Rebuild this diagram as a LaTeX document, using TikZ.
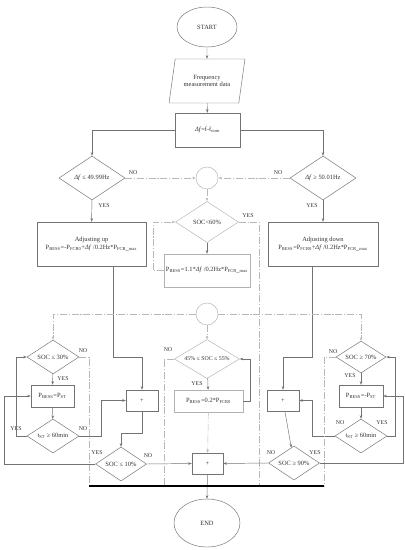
\documentclass[tikz,border=0pt]{standalone}
\usepackage{fontspec}
\setmainfont{Liberation Serif}
\usetikzlibrary{calc, positioning, arrows.meta, shapes.geometric}

\begin{document}
\begin{tikzpicture}[x=0.03cm, y=-0.03cm,
  every node/.style={font=\fontsize{5.5}{6.5}\selectfont, text=black!80},
  term/.style={draw=black!55, ellipse, minimum width=1.8cm, minimum height=1.2cm},
  iobox/.style={draw=black!55, trapezium, trapezium left angle=75,
    trapezium right angle=105, trapezium stretches, minimum width=2.28cm,
    minimum height=1.32cm, align=center},
  blk/.style={draw=black!55, rectangle, align=center, inner sep=1pt},
  dec/.style={draw=black!55, diamond, aspect=1.5, inner sep=0pt, align=center},
  jn/.style={draw=black!30, circle, minimum size=0.66cm, inner sep=0pt},
  lbl/.style={font=\fontsize{5}{6}\selectfont, inner sep=0pt},
  arw/.style={-{Stealth[length=3pt,width=2.2pt]}, draw=black!55},
  faint/.style={draw=black!28, dash pattern=on 6pt off 1.5pt on 1pt off 1.5pt},
]
\useasboundingbox (0,0) rectangle (405,550);

% frequency part
\node[term] (start) at (207,27) {START};
\node[iobox] (data) at (207,81) {Frequency\\measurement data};
\node[blk, minimum width=1.95cm, minimum height=1.02cm] (df) at (207.5,130)
  {\textit{Δf}=f-f$_{\mathrm{nom}}$};
\node[dec, minimum width=1.98cm, minimum height=1.32cm] (dlo) at (92,178)
  {\textit{Δf} ≤ 49.99Hz};
\node[dec, minimum width=1.98cm, minimum height=1.32cm] (dhi) at (323,178)
  {\textit{Δf} ≥ 50.01Hz};
\node[jn] (j1) at (207,178) {};
\node[dec, draw=black!30, minimum width=1.89cm, minimum height=1.23cm] (s60) at (207,222)
  {SOC<60\%};
\node[blk, minimum width=3.27cm, minimum height=1.32cm] (up) at (91.5,244)
  {Adjusting up\\P$_{\mathrm{BESS}}$=-P$_{\mathrm{FCR0}}$+\textit{Δf} /0.2Hz*P$_{\mathrm{FCR\_max}}$};
\node[blk, minimum width=3.3cm, minimum height=1.32cm] (down) at (323,244)
  {Adjusting down\\P$_{\mathrm{BESS}}$=P$_{\mathrm{FCR0}}$+\textit{Δf} /0.2Hz*P$_{\mathrm{FCR\_max}}$};
\node[blk, draw=black!30, minimum width=2.58cm, minimum height=0.99cm] (p11) at (207,270.5)
  {P$_{\mathrm{BESS}}$=1.1*\textit{Δf} /0.2Hz*P$_{\mathrm{FCR\_max}}$};

% SOC part
\node[jn] (j2) at (207,314) {};
\node[dec, minimum width=1.56cm, minimum height=1.02cm] (s30) at (53,357) {SOC ≤ 30\%};
\node[blk, minimum width=1.29cm, minimum height=0.66cm] (pstl) at (52.5,396)
  {P$_{\mathrm{BESS}}$=P$_{\mathrm{ST}}$};
\node[dec, minimum width=1.56cm, minimum height=1.02cm] (tstl) at (53,436)
  {t$_{\mathrm{ST}}$ ≥ 60min};
\node[blk, minimum width=0.96cm, minimum height=0.63cm] (addl) at (142,400.5) {+};
\node[dec, minimum width=1.53cm, minimum height=1.02cm] (s10) at (121,464) {SOC ≤ 10\%};
\node[dec, draw=black!30, minimum width=1.95cm, minimum height=1.17cm,
  font=\fontsize{5}{6}\selectfont] (s45) at (207,359) {45\% ≤ SOC ≤ 55\%};
\node[blk, draw=black!30, minimum width=2.07cm, minimum height=0.66cm] (p02) at (208.5,401)
  {P$_{\mathrm{BESS}}$=0.2*P$_{\mathrm{FCR0}}$};
\node[blk, minimum width=0.93cm, minimum height=0.63cm] (addm) at (207.5,463.5) {+};
\node[dec, minimum width=1.5cm, minimum height=0.96cm] (s70) at (361,357) {SOC ≥ 70\%};
\node[blk, minimum width=1.32cm, minimum height=0.66cm] (pstr) at (361,396)
  {P$_{\mathrm{BESS}}$=-P$_{\mathrm{ST}}$};
\node[dec, minimum width=1.56cm, minimum height=1.02cm] (tstr) at (361,436)
  {t$_{\mathrm{ST}}$ ≥ 60min};
\node[blk, minimum width=0.96cm, minimum height=0.63cm] (addr) at (283,400.5) {+};
\node[dec, minimum width=1.53cm, minimum height=1.02cm] (s90) at (294,463) {SOC ≥ 90\%};
\node[term, minimum width=1.98cm, minimum height=1.44cm] (end) at (207,523) {END};

\coordinate (bl) at (89,486);
\coordinate (b45) at (164,486);
\coordinate (b60) at (259,486);
\coordinate (br) at (324,486);

% labels
\node[lbl] (no1) at (133,173) {NO};
\node[lbl] (no2) at (278,173) {NO};
\node[lbl] (yes1) at (104,206) {YES};
\node[lbl] (yes2) at (312,206) {YES};
\node[lbl] (yes3) at (248,216) {YES};
\node[lbl] (no3) at (83,351) {NO};
\node[lbl] (yes4) at (63,379) {YES};
\node[lbl] (yes5) at (16,429) {YES};
\node[lbl] (no4) at (83,429) {NO};
\node[lbl] (yes6) at (97,453) {YES};
\node[lbl] (no5) at (148,456) {NO};
\node[lbl] (no6) at (168,350) {NO};
\node[lbl] (yes7) at (197,384) {YES};
\node[lbl] (no7) at (333,352) {NO};
\node[lbl] (yes8) at (350,376) {YES};
\node[lbl] (no8) at (340,423) {NO};
\node[lbl] (yes9) at (382,423) {YES};
\node[lbl] (no9) at (271,453) {NO};
\node[lbl] (yes10) at (315,453) {YES};

% connectors
\draw[arw] (start) -- (data);
\draw[arw] (data) -- (df);
\draw[arw] (df.west) -| (dlo.north);
\draw[arw] (df.east) -| (dhi.north);
\draw[arw, faint] (dlo.east) -- (j1.west);
\draw[arw, faint] (dhi.west) -- (j1.east);
\draw[arw] (dlo) -- (up);
\draw[arw] (dhi) -- (down);
\draw[arw, faint] (j1) -- (s60);
\draw[arw] (s60) -- (p11);
\draw[arw, faint] (p11.west) -- ++(-11,0) |- (s60.west);
\draw[faint] (s60.east) -| (b60);
\draw[arw] ($(up.south)+(21.5,0)$) -- ++(0,91) -| (addl.north);
\draw[arw] ($(down.south)+(-11,0)$) -- ++(0,91) -| (addr.north);

\draw[arw, faint] (j2.west) -| (s30.north);
\draw[arw, faint] (j2.east) -| (s70.north);
\draw[arw, faint] (j2) -- (s45);
\draw[arw] (s30) -- (pstl);
\draw[arw] (pstl) -- (tstl);
\draw[arw] (tstl.west) -- ++(-11,0) |- (s30.west);
\draw[arw] (tstl.east) -- ++(22,0) |- (addl.west);
\draw[faint] (s30.east) -| (bl);
\draw[arw] (addl.south) -- ++(0,22) -| (s10.north);
\draw[arw] (s10.west) -- ++(-91,0) |- (pstl.west);
\draw[arw] (s10.east) -- (addm.west);
\draw[arw] (addm.south) -- (end.north);
\draw[arw] (s45) -- (p02);
\draw[arw] (p02.east) -- ++(7,0) |- (s45.east);
\draw[faint] (s45.west) -| (b45);
\draw[arw, faint] (p02) -- (addm);
\draw[arw] (s70) -- (pstr);
\draw[arw] (pstr) -- (tstr);
\draw[arw] (tstr.east) -- ++(8,0) |- (s70.east);
\draw[arw] (tstr.west) -- ++(-23,0) |- (addr.east);
\draw[faint] (s70.west) -| (br);
\draw[arw] (addr) -- (s90);
\draw[arw] (s90.east) -- ++(83,0) |- (pstr.east);
\draw[arw] (s90.west) -- (addm.east);
\draw[line width=1.8pt] (bl) -- (br);
\end{tikzpicture}
\end{document}
